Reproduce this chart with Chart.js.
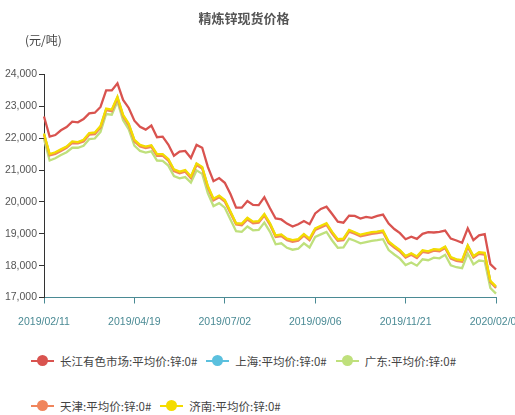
<!DOCTYPE html>
<html lang="zh">
<head>
<meta charset="UTF-8">
<title>精炼锌现货价格</title>
<style>
    body { margin: 0; background: #fff; }
    .chart-box { position: relative; width: 515px; height: 415px; overflow: hidden; }
    #zincChart { position: absolute; left: 0; top: 0; }
    .legend-row {
        position: absolute; left: 31px; height: 16px;
        display: flex; align-items: center; white-space: nowrap;
        font-family: "Noto Sans CJK SC", sans-serif; font-size: 11.5px; color: #444;
    }
    .legend-item { display: flex; align-items: center; margin-right: 9px; }
    .marker { position: relative; width: 23px; height: 12px; margin-right: 6px; }
    .marker::before { content: ''; position: absolute; left: 0; right: 0; top: 5px; height: 2px; background: var(--c); }
    .marker::after { content: ''; position: absolute; left: 6px; top: 0; width: 11px; height: 11px; border-radius: 50%; background: var(--c); }
</style>
</head>
<body>
<div class="chart-box">
    <canvas id="zincChart" width="515" height="340"></canvas>
    <div class="legend-row" id="legendRow1" style="top:353px"></div>
    <div class="legend-row" id="legendRow2" style="top:398px"></div>
</div>

<script src="https://cdn.jsdelivr.net/npm/chart.js"></script>
<script>
    const chartTitle = '精炼锌现货价格';
    const unitLabel = '(元/吨)';

    // one tick label every 48 trading days, data sampled every 3 trading days
    const tickLabels = ['2019/02/11', '2019/04/19', '2019/07/02', '2019/09/06', '2019/11/21', '2020/02/06'];
    const stepsPerTick = 16;

    const seriesNames = ['长江有色市场:平均价:锌:0#', '上海:平均价:锌:0#', '广东:平均价:锌:0#', '天津:平均价:锌:0#', '济南:平均价:锌:0#'];
    const seriesColors = ['#d9534f', '#5bc0de', '#bfe07c', '#f0855c', '#f4dc00'];

    const changjiang = [
        22680, 22050, 22100, 22250, 22350, 22520, 22500, 22600, 22780, 22800,
        22980, 23500, 23500, 23725, 23200, 22950, 22550, 22360, 22270, 22400,
        22030, 22050, 21800, 21450, 21580, 21600, 21380, 21790, 21700, 21100,
        20650, 20750, 20600, 20250, 19820, 19820, 20030, 19905, 19900, 20150,
        19800, 19480, 19450, 19320, 19230, 19300, 19400, 19300, 19640, 19780,
        19850, 19620, 19380, 19350, 19570, 19560, 19480, 19530, 19500, 19560,
        19600, 19320, 19150, 19020, 18830, 18910, 18840, 19000, 19050, 19040,
        19060, 19100, 18850, 18790, 18720, 19170, 18800, 18950, 18990, 18050,
        17880
    ];
    const shanghai = [
        22140, 21480, 21540, 21630, 21720, 21880, 21870, 21930, 22140, 22160,
        22360, 22910, 22880, 23280, 22710, 22430, 21930, 21770, 21720, 21760,
        21480, 21480, 21330, 21000, 20930, 20980, 20780, 21190, 21080, 20480,
        20080, 20180, 20040, 19680, 19320, 19300, 19480, 19360, 19380, 19600,
        19310, 18940, 18960, 18830, 18790, 18810, 18970, 18830, 19150, 19230,
        19310, 19040, 18810, 18840, 19100, 19030, 18950, 18990, 19030, 19060,
        19080, 18740, 18600, 18470, 18290, 18370, 18270, 18460, 18440, 18500,
        18480, 18580, 18250, 18190, 18150, 18620, 18290, 18400, 18380, 17500,
        17320
    ];
    const guangdong = [
        21980, 21300, 21370, 21470, 21560, 21700, 21700, 21760, 21970, 21990,
        22200, 22760, 22740, 23150, 22560, 22280, 21770, 21600, 21550, 21590,
        21300, 21290, 21140, 20810, 20740, 20780, 20610, 20990, 20880, 20270,
        19870, 19960, 19820, 19450, 19080, 19060, 19230, 19110, 19120, 19350,
        19060, 18670, 18700, 18560, 18500, 18530, 18700, 18570, 18900, 18980,
        19060, 18790, 18560, 18570, 18850, 18780, 18700, 18740, 18780, 18800,
        18830, 18490, 18350, 18220, 18020, 18100, 18000, 18200, 18170, 18250,
        18230, 18340, 18010, 17950, 17920, 18380, 18040, 18160, 18140, 17300,
        17120
    ];
    const tianjin = [
        22110, 21460, 21510, 21600, 21700, 21850, 21840, 21900, 22110, 22130,
        22330, 22880, 22850, 23250, 22680, 22400, 21900, 21740, 21690, 21730,
        21450, 21450, 21300, 20970, 20900, 20950, 20750, 21160, 21050, 20450,
        20050, 20150, 20010, 19650, 19290, 19270, 19450, 19330, 19350, 19570,
        19280, 18900, 18930, 18800, 18750, 18780, 18940, 18800, 19120, 19200,
        19280, 19010, 18780, 18800, 19070, 19000, 18920, 18960, 19000, 19020,
        19050, 18710, 18570, 18440, 18250, 18340, 18240, 18430, 18400, 18470,
        18450, 18550, 18220, 18150, 18120, 18590, 18250, 18370, 18350, 17480,
        17300
    ];
    const jinan = [
        22150, 21500, 21560, 21650, 21740, 21900, 21880, 21950, 22160, 22180,
        22380, 22930, 22900, 23300, 22730, 22450, 21950, 21790, 21740, 21780,
        21500, 21500, 21350, 21020, 20950, 21000, 20800, 21210, 21100, 20500,
        20100, 20200, 20060, 19700, 19330, 19320, 19500, 19380, 19400, 19620,
        19330, 18950, 18980, 18850, 18800, 18830, 18990, 18850, 19170, 19250,
        19330, 19060, 18830, 18850, 19120, 19050, 18970, 19010, 19050, 19070,
        19100, 18760, 18620, 18490, 18300, 18390, 18290, 18480, 18450, 18520,
        18500, 18600, 18270, 18200, 18170, 18640, 18300, 18420, 18400, 17520,
        17350
    ];

    const seriesValues = [changjiang, shanghai, guangdong, tianjin, jinan];
    // yellow on top, red at the bottom
    const drawOrder = [4, 2, 3, 1, 0];

    const categories = changjiang.map((v, i) => i % stepsPerTick === 0 ? tickLabels[i / stepsPerTick] : '');

    const teal = '#4a8a94';
    const axisFont = { family: '"Liberation Sans", Arial, sans-serif', size: 10.5 };

    // title and unit text
    const headerText = {
        id: 'headerText',
        afterDraw(chart) {
            const ctx = chart.ctx;
            ctx.save();
            ctx.textBaseline = 'middle';
            ctx.fillStyle = '#555';
            ctx.font = 'bold 13px "Noto Sans CJK SC", sans-serif';
            ctx.textAlign = 'center';
            ctx.fillText(chartTitle, 244, 18);
            ctx.fillStyle = '#444';
            ctx.font = '12px "Noto Sans CJK SC", sans-serif';
            ctx.textAlign = 'left';
            ctx.fillText(unitLabel, 25, 40);
            ctx.restore();
        }
    };

    const datasets = seriesNames.map((name, i) => ({
        label: name,
        data: seriesValues[i],
        borderColor: seriesColors[i],
        backgroundColor: seriesColors[i],
        borderWidth: 2.3,
        pointRadius: 0,
        tension: 0,
        fill: false,
        order: drawOrder[i]
    }));

    new Chart(document.getElementById('zincChart'), {
        type: 'line',
        data: { labels: categories, datasets: datasets },
        plugins: [headerText],
        options: {
            responsive: false,
            animation: false,
            layout: { padding: { top: 74.5, right: 19, left: 0, bottom: 0 } },
            plugins: {
                legend: { display: false },
                title: { display: false },
                tooltip: { enabled: false }
            },
            scales: {
                x: {
                    grid: {
                        drawOnChartArea: false,
                        drawTicks: true,
                        tickLength: 6,
                        color: teal,
                        tickColor: (c) => c.index % stepsPerTick === 0 ? teal : 'rgba(0,0,0,0)'
                    },
                    border: { color: teal },
                    ticks: {
                        autoSkip: false,
                        maxRotation: 0,
                        padding: 12,
                        color: teal,
                        font: axisFont,
                        callback: (v, i) => categories[i]
                    },
                    afterFit: (s) => { s.height = 42.5; s.paddingLeft = 0; s.paddingRight = 0; }
                },
                y: {
                    min: 17000,
                    max: 24000,
                    grid: { drawOnChartArea: false, tickLength: 5, color: '#333' },
                    border: { color: '#333' },
                    ticks: {
                        stepSize: 1000,
                        padding: 2,
                        color: '#555',
                        font: axisFont,
                        callback: (v) => v.toLocaleString('en-US')
                    },
                    afterFit: (s) => { s.width = 44; }
                }
            }
        }
    });

    // legend, two rows as in the original
    const legendRows = [[0, 1, 2], [3, 4]];
    legendRows.forEach((row, r) => {
        const el = document.getElementById('legendRow' + (r + 1));
        row.forEach(i => {
            const item = document.createElement('div');
            item.className = 'legend-item';
            const mark = document.createElement('span');
            mark.className = 'marker';
            mark.style.setProperty('--c', seriesColors[i]);
            const text = document.createElement('span');
            text.textContent = seriesNames[i];
            item.appendChild(mark);
            item.appendChild(text);
            el.appendChild(item);
        });
    });
</script>
</body>
</html>
